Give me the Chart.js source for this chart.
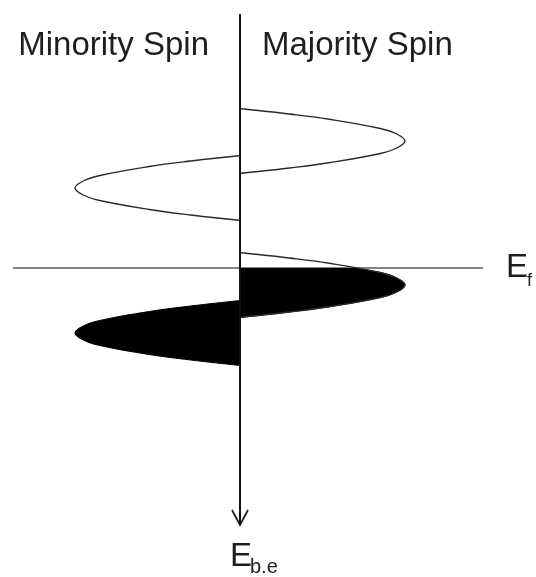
<!DOCTYPE html>
<html>
<head>
<meta charset="utf-8">
<script src="https://cdn.jsdelivr.net/npm/chart.js@4.4.0/dist/chart.umd.min.js"></script>
<style>
  body { margin: 0; background: #fff; }
  #wrap { width: 536px; height: 577px; position: relative; }
</style>
</head>
<body>
<div id="wrap"><canvas id="dosChart"></canvas></div>
<script>
// Energy relative to E_f (positive = bound, below E_f), DOS in arbitrary units.
// Minority spin DOS is plotted negative (left of the axis).
const lobeDos = [0, 0.30, 0.55, 0.85, 0.95, 1.00, 0.95, 0.85, 0.55, 0.30, 0];

const majUpperE = [-3.19, -3.08, -2.97, -2.79, -2.68, -2.54, -2.40, -2.29, -2.11, -2.00, -1.89];
const minUpperE = [-2.25, -2.14, -2.03, -1.85, -1.74, -1.60, -1.46, -1.35, -1.17, -1.06, -0.95];
const majLowerE = [-0.31, -0.20, -0.09, 0.09, 0.20, 0.34, 0.48, 0.59, 0.77, 0.88, 0.99];
const minLowerE = [0.65, 0.76, 0.87, 1.05, 1.16, 1.30, 1.44, 1.55, 1.73, 1.84, 1.95];

// DOS where the lower majority band crosses E_f
const majAtFermi = 0.68;

const spinLabels = ['Minority Spin', 'Majority Spin'];

function lobe(energies, sign) {
  return energies.map((e, i) => ({ x: sign * lobeDos[i], y: e }));
}

// occupied part of the lower majority band (E >= 0)
const majOccupied = [{ x: majAtFermi, y: 0 }].concat(
  lobe(majLowerE, 1).filter(p => p.y > 0)
);

const outline = {
  borderColor: '#2a2a2a',
  borderWidth: 1.4,
  pointRadius: 0,
  tension: 0.4,
  fill: false
};

const fermiAndAxes = {
  id: 'fermiAndAxes',
  beforeDatasetsDraw(chart) {
    const ctx = chart.ctx;
    const y0 = chart.scales.y.getPixelForValue(0);
    ctx.save();
    ctx.strokeStyle = '#858585';
    ctx.lineWidth = 2;
    ctx.beginPath();
    ctx.moveTo(13, y0);
    ctx.lineTo(483, y0);
    ctx.stroke();
    ctx.restore();
  },
  afterDatasetsDraw(chart) {
    const ctx = chart.ctx;
    const x0 = chart.scales.x.getPixelForValue(0);
    const y0 = chart.scales.y.getPixelForValue(0);
    ctx.save();
    // energy axis with arrow pointing down
    ctx.strokeStyle = '#111';
    ctx.lineWidth = 2;
    ctx.beginPath();
    ctx.moveTo(x0, 14);
    ctx.lineTo(x0, 524);
    ctx.stroke();
    ctx.lineWidth = 1.6;
    ctx.beginPath();
    ctx.moveTo(x0 - 8, 510);
    ctx.lineTo(x0, 525);
    ctx.lineTo(x0 + 8, 510);
    ctx.stroke();

    ctx.fillStyle = '#1e1e1e';
    ctx.textBaseline = 'alphabetic';
    ctx.font = '33px "Liberation Sans", Arial, sans-serif';
    ctx.textAlign = 'right';
    ctx.fillText(spinLabels[0], x0 - 31, 55);
    ctx.textAlign = 'left';
    ctx.fillText(spinLabels[1], x0 + 22, 55);

    // E_f
    ctx.fillText('E', 506, y0 + 9);
    ctx.font = '18px "Liberation Sans", Arial, sans-serif';
    ctx.fillText('f', 527, y0 + 18);

    // E_b.e
    ctx.font = '33px "Liberation Sans", Arial, sans-serif';
    ctx.fillText('E', x0 - 10, 566);
    ctx.font = '20px "Liberation Sans", Arial, sans-serif';
    ctx.fillText('b.e', x0 + 10, 573);
    ctx.restore();
  }
};

new Chart(document.getElementById('dosChart'), {
  type: 'line',
  data: {
    datasets: [
      Object.assign({ label: 'majority upper', data: lobe(majUpperE, 1) }, outline),
      Object.assign({ label: 'minority upper', data: lobe(minUpperE, -1) }, outline),
      Object.assign({ label: 'majority lower', data: lobe(majLowerE, 1) }, outline),
      {
        label: 'majority occupied',
        data: majOccupied,
        borderColor: '#000',
        borderWidth: 1,
        backgroundColor: '#000',
        pointRadius: 0,
        tension: 0.4,
        fill: 'origin'
      },
      {
        label: 'minority occupied',
        data: lobe(minLowerE, -1),
        borderColor: '#000',
        borderWidth: 1,
        backgroundColor: '#000',
        pointRadius: 0,
        tension: 0.4,
        fill: 'origin'
      }
    ]
  },
  options: {
    indexAxis: 'y',
    responsive: true,
    maintainAspectRatio: false,
    animation: false,
    events: [],
    layout: { padding: 0 },
    scales: {
      x: { type: 'linear', display: false, min: -1.4545, max: 1.7939 },
      y: { type: 'linear', display: false, reverse: true, min: -5.36, max: 6.18 }
    },
    plugins: {
      legend: { display: false },
      tooltip: { enabled: false }
    }
  },
  plugins: [fermiAndAxes]
});
</script>
</body>
</html>
